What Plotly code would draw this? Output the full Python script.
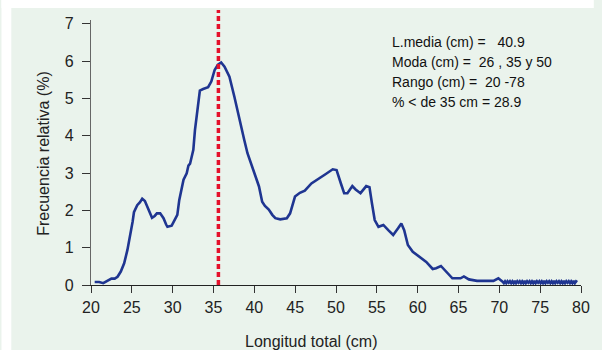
import plotly.graph_objects as go

# Length-frequency distribution (relative frequency, %)
longitud = [20.45, 21.0, 21.5, 21.8, 22.2, 22.5, 22.9, 23.25, 23.65, 24.06,
            24.46, 24.86, 25.1, 25.26, 25.66, 26.0, 26.27, 26.6, 26.8, 27.07,
            27.47, 27.8, 28.07, 28.47, 28.88, 29.2, 29.36, 29.88, 30.28, 30.57,
            30.81, 31.08, 31.33, 31.72, 31.93, 32.13, 32.33, 32.53, 32.73, 33.05,
            33.33, 33.73, 34.34, 34.73, 35.14, 35.54, 35.94, 36.35, 36.95, 37.55,
            38.16, 38.76, 39.16, 39.55, 39.96, 40.16, 40.57, 40.96, 41.3, 41.77,
            42.2, 42.57, 43.17, 43.98, 44.38, 44.98, 45.58, 46.18, 46.99, 47.8,
            48.8, 49.6, 50.07, 50.6, 51.0, 51.4, 52.0, 52.4, 53.0, 53.7,
            54.1, 54.4, 54.74, 55.2, 55.8, 56.4, 57.0, 57.6, 58.0, 58.35,
            58.8, 59.4, 60.2, 61.05, 61.84, 62.25, 62.85, 63.45, 64.25, 65.25,
            65.66, 66.27, 66.87, 67.27, 69.28, 69.88, 70.4,
            70.55, 70.7, 70.85, 71.0, 71.15, 71.3, 71.45, 71.6, 71.75, 71.9,
            72.05, 72.2, 72.35, 72.5, 72.65, 72.8, 72.95, 73.1, 73.25, 73.4,
            73.55, 73.7, 73.85, 74.0, 74.15, 74.3, 74.45, 74.6, 74.75, 74.9,
            75.05, 75.2, 75.35, 75.5, 75.65, 75.8, 75.95, 76.1, 76.25, 76.4,
            76.55, 76.7, 76.85, 77.0, 77.15, 77.3, 77.45, 77.6, 77.75, 77.9,
            78.05, 78.2, 78.35, 78.5, 78.65, 78.8, 78.95, 79.1, 79.25, 79.4,
            79.55]
frecuencia = [0.08, 0.08, 0.05, 0.09, 0.15, 0.17, 0.17, 0.22, 0.36, 0.58,
              0.94, 1.39, 1.70, 1.95, 2.14, 2.22, 2.31, 2.25, 2.15, 1.97,
              1.80, 1.85, 1.92, 1.92, 1.79, 1.62, 1.56, 1.59, 1.74, 1.88,
              2.28, 2.55, 2.82, 2.99, 3.20, 3.25, 3.44, 3.62, 4.15, 4.78,
              5.21, 5.25, 5.30, 5.45, 5.76, 5.90, 5.96, 5.85, 5.58, 5.05,
              4.42, 3.89, 3.53, 3.26, 2.99, 2.90, 2.64, 2.23, 2.12, 2.02,
              1.88, 1.79, 1.76, 1.79, 1.92, 2.37, 2.47, 2.53, 2.72, 2.83,
              2.98, 3.10, 3.08, 2.72, 2.46, 2.46, 2.65, 2.56, 2.46, 2.65,
              2.62, 2.19, 1.74, 1.56, 1.61, 1.47, 1.34, 1.52, 1.65, 1.47,
              1.07, 0.89, 0.76, 0.62, 0.43, 0.45, 0.51, 0.36, 0.18, 0.18,
              0.23, 0.15, 0.12, 0.11, 0.11, 0.18, 0.09,
              0.05, 0.10, 0.05, 0.10, 0.06, 0.10, 0.05, 0.10, 0.05, 0.11,
              0.05, 0.10, 0.06, 0.10, 0.05, 0.10, 0.05, 0.11, 0.05, 0.10,
              0.06, 0.10, 0.05, 0.10, 0.05, 0.11, 0.05, 0.10, 0.06, 0.10,
              0.05, 0.10, 0.05, 0.11, 0.05, 0.10, 0.06, 0.10, 0.05, 0.10,
              0.05, 0.11, 0.05, 0.10, 0.06, 0.10, 0.05, 0.10, 0.05, 0.11,
              0.05, 0.10, 0.06, 0.10, 0.05, 0.10, 0.05, 0.11, 0.05, 0.10,
              0.08]

moda_principal = 35.6

x_ticks = [20, 25, 30, 35, 40, 45, 50, 55, 60, 65, 70, 75, 80]
y_ticks = [0, 1, 2, 3, 4, 5, 6, 7]

resumen = [
    "L.media (cm) =\u00a0\u00a0\u00a040.9",
    "Moda (cm) =\u00a0\u00a026 , 35 y 50",
    "Rango (cm) =\u00a0\u00a020\u00a0-78",
    "% < de 35 cm =\u00a028.9",
]

W, H = 602, 350
L, R, T, B = 91, 13, 20, 65
pw, ph = W - L - R, H - T - B


def px_x(p):
    return (p - L) / pw


def px_y(p):
    return (H - B - p) / ph


bg = "#EAF3EC"
font = "Liberation Sans, Arial, sans-serif"
narrow = "Liberation Sans Narrow, Arial Narrow, Liberation Sans, sans-serif"

fig = go.Figure()
fig.add_trace(go.Scatter(
    x=longitud, y=frecuencia, mode="lines",
    line=dict(color="#1F3591", width=2.6),
    hoverinfo="skip", showlegend=False,
))

shapes = [
    # mode marker line
    dict(type="line", xref="x", yref="paper", x0=moda_principal, x1=moda_principal,
         y0=0, y1=px_y(10), line=dict(color="#E5102B", width=3.5, dash="5px,3px"),
         layer="above"),
    # white strips around the panel
    dict(type="rect", xref="paper", yref="paper", x0=px_x(0), x1=px_x(10),
         y0=px_y(H), y1=px_y(0), fillcolor="white", line=dict(width=0), layer="above"),
    dict(type="rect", xref="paper", yref="paper", x0=px_x(0), x1=px_x(W),
         y0=px_y(8), y1=px_y(0), fillcolor="white", line=dict(width=0), layer="above"),
]

annotations = []
for i, txt in enumerate(resumen):
    annotations.append(dict(
        text=txt, xref="paper", yref="paper", x=px_x(395), y=px_y(42 + 20 * i),
        xanchor="left", yanchor="middle", showarrow=False, align="left",
        font=dict(family=font, size=14, color="#111111"),
    ))
annotations.append(dict(
    text="Longitud total (cm)", xref="paper", yref="paper",
    x=px_x(315), y=px_y(341), xanchor="center", yanchor="middle",
    showarrow=False, font=dict(family=font, size=16, color="#222222"),
))
annotations.append(dict(
    text="Frecuencia relativa (%)", xref="paper", yref="paper",
    x=px_x(42), y=px_y(153), xanchor="center", yanchor="middle",
    textangle=-90, showarrow=False, font=dict(family=font, size=16, color="#222222"),
))

tickfont = dict(family=narrow, size=16, color="#222222")

fig.update_layout(
    width=W, height=H,
    margin=dict(l=L, r=R, t=T, b=B, pad=0),
    paper_bgcolor=bg, plot_bgcolor=bg,
    shapes=shapes, annotations=annotations,
    font=dict(family=font, size=14, color="#222222"),
    xaxis=dict(range=[20, 80], tickvals=x_ticks, ticks="outside", ticklen=7,
               tickwidth=1.3, tickcolor="#333333", showline=True, linecolor="#222222",
               linewidth=1.3, showgrid=False, zeroline=False, fixedrange=True,
               ticklabelstandoff=1, tickfont=tickfont),
    yaxis=dict(range=[0, 7.1], tickvals=y_ticks, ticks="outside", ticklen=8,
               tickwidth=1.3, tickcolor="#333333", showline=True, linecolor="#666666",
               linewidth=1.3, showgrid=False, zeroline=False, fixedrange=True,
               ticklabelstandoff=5, tickfont=tickfont),
)

fig.write_html("out.html")
